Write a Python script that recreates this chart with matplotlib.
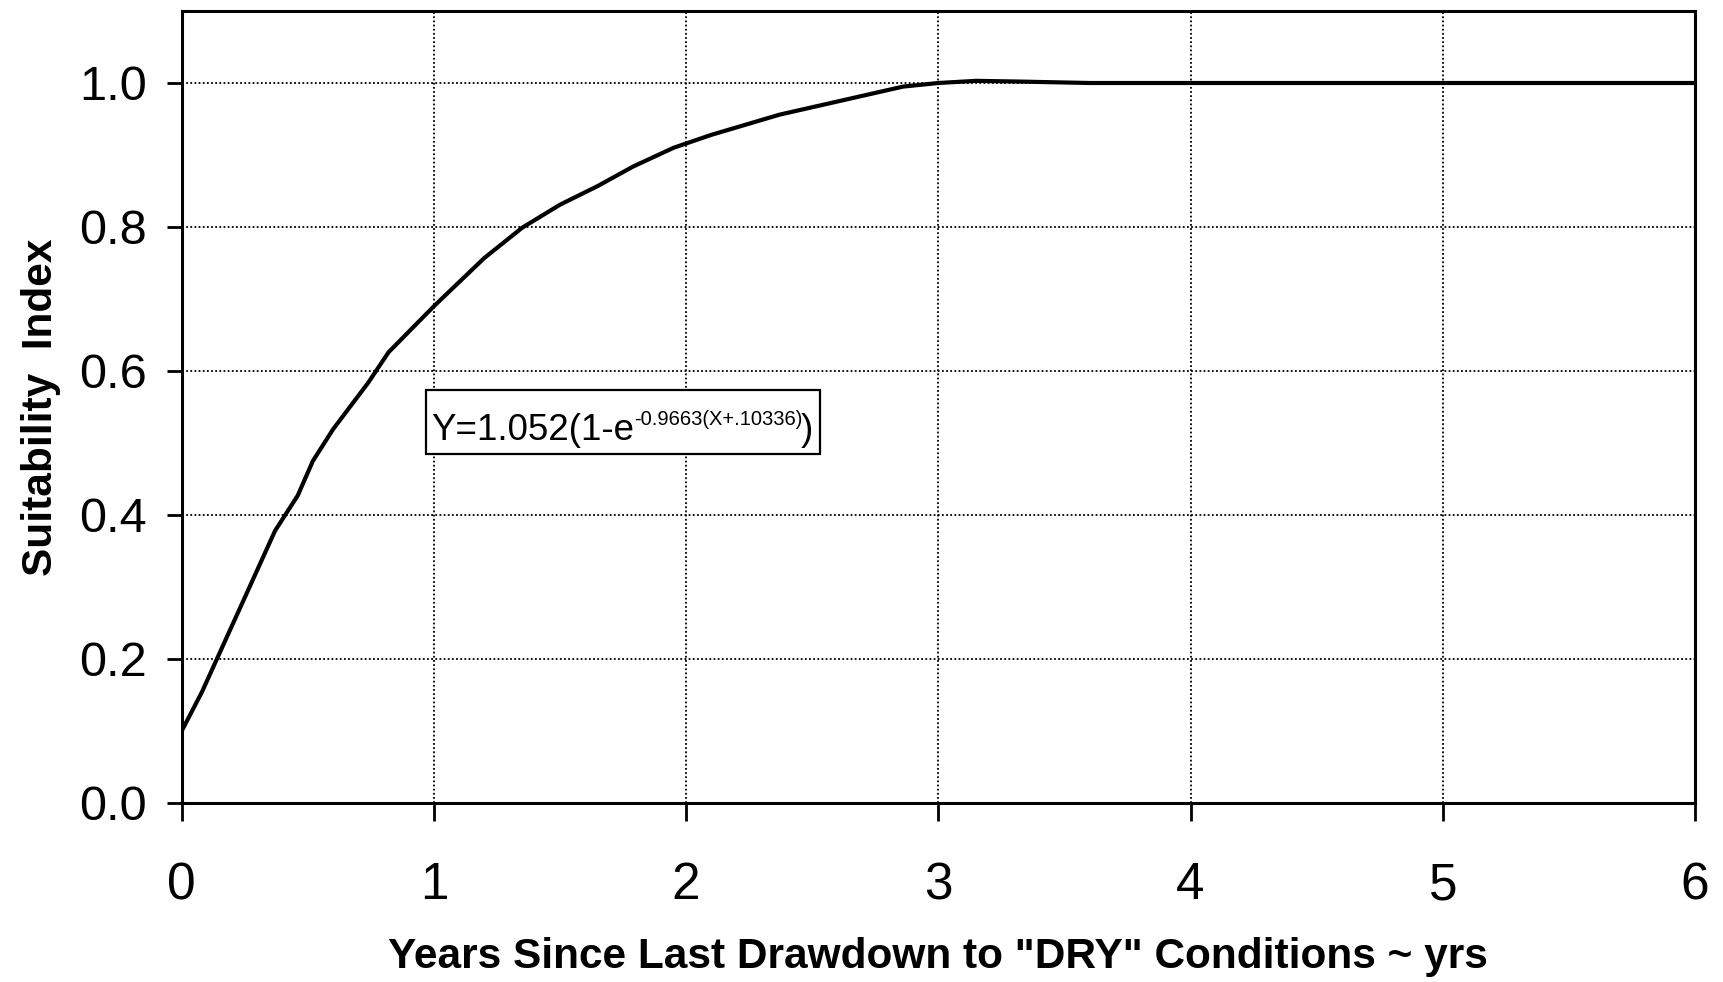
import matplotlib
matplotlib.use("Agg")
import matplotlib.pyplot as plt
from matplotlib.patches import Rectangle

# Data
years = [0.0, 0.08, 0.37, 0.46, 0.52, 0.60, 0.74, 0.82, 1.00, 1.20, 1.35,
         1.50, 1.65, 1.79, 1.95, 2.10, 2.37, 2.86, 3.00, 3.15, 3.32, 3.60, 6.00]
suitability = [0.100, 0.154, 0.378, 0.427, 0.475, 0.519, 0.584, 0.626, 0.690,
               0.757, 0.799, 0.831, 0.857, 0.884, 0.910, 0.928, 0.956, 0.995,
               1.000, 1.003, 1.002, 1.000, 1.000]
x_ticks = [0, 1, 2, 3, 4, 5, 6]
y_ticks = [0.0, 0.2, 0.4, 0.6, 0.8, 1.0]
y_tick_labels = ["0.0", "0.2", "0.4", "0.6", "0.8", "1.0"]
x_label = 'Years Since Last Drawdown to "DRY" Conditions ~ yrs'
y_label = "Suitability  Index"
eq_main = "Y=1.052(1-e"
eq_sup = "-0.9663(X+.10336)"
eq_close = ")"

plt.rcParams["font.family"] = ["Liberation Sans", "DejaVu Sans"]

fig = plt.figure(figsize=(17.24, 9.82), dpi=100)
ax = fig.add_axes([0.1054, 0.1823, 0.8778, 0.8065])

ax.plot(years, suitability, color="black", lw=3.0, solid_joinstyle="round")

ax.set_xlim(0, 6)
ax.set_ylim(0, 1.1)
ax.set_xticks(x_ticks)
ax.set_xticklabels([str(v) for v in x_ticks])
ax.set_yticks(y_ticks)
ax.set_yticklabels(y_tick_labels)

ax.grid(True, color="black", linestyle=(0, (1, 1.3)), linewidth=1.3)
ax.set_axisbelow(True)

for s in ax.spines.values():
    s.set_linewidth(2.2)
    s.set_color("black")

ax.tick_params(axis="y", direction="out", length=11, width=2.0,
               labelsize=35, pad=14)
ax.tick_params(axis="x", direction="out", length=13, width=2.0,
               labelsize=37, pad=29)

ax.set_xlabel(x_label, fontsize=30.5, fontweight="bold", labelpad=19)
ax.set_ylabel(y_label, fontsize=30.5, fontweight="bold", labelpad=13)

# equation box
ax.add_patch(Rectangle((0.968, 0.485), 2.53 - 0.968, 0.574 - 0.485,
                       facecolor="white", edgecolor="black", lw=1.6,
                       zorder=5))
ax.text(0.988, 0.504, eq_main, fontsize=26.5, ha="left", va="baseline",
        zorder=6)
ax.text(1.795, 0.525, eq_sup, fontsize=14.5, ha="left", va="baseline",
        zorder=6)
ax.text(2.455, 0.504, eq_close, fontsize=26.5, ha="left", va="baseline",
        zorder=6)

fig.savefig("out.png", dpi=100, facecolor="white")
